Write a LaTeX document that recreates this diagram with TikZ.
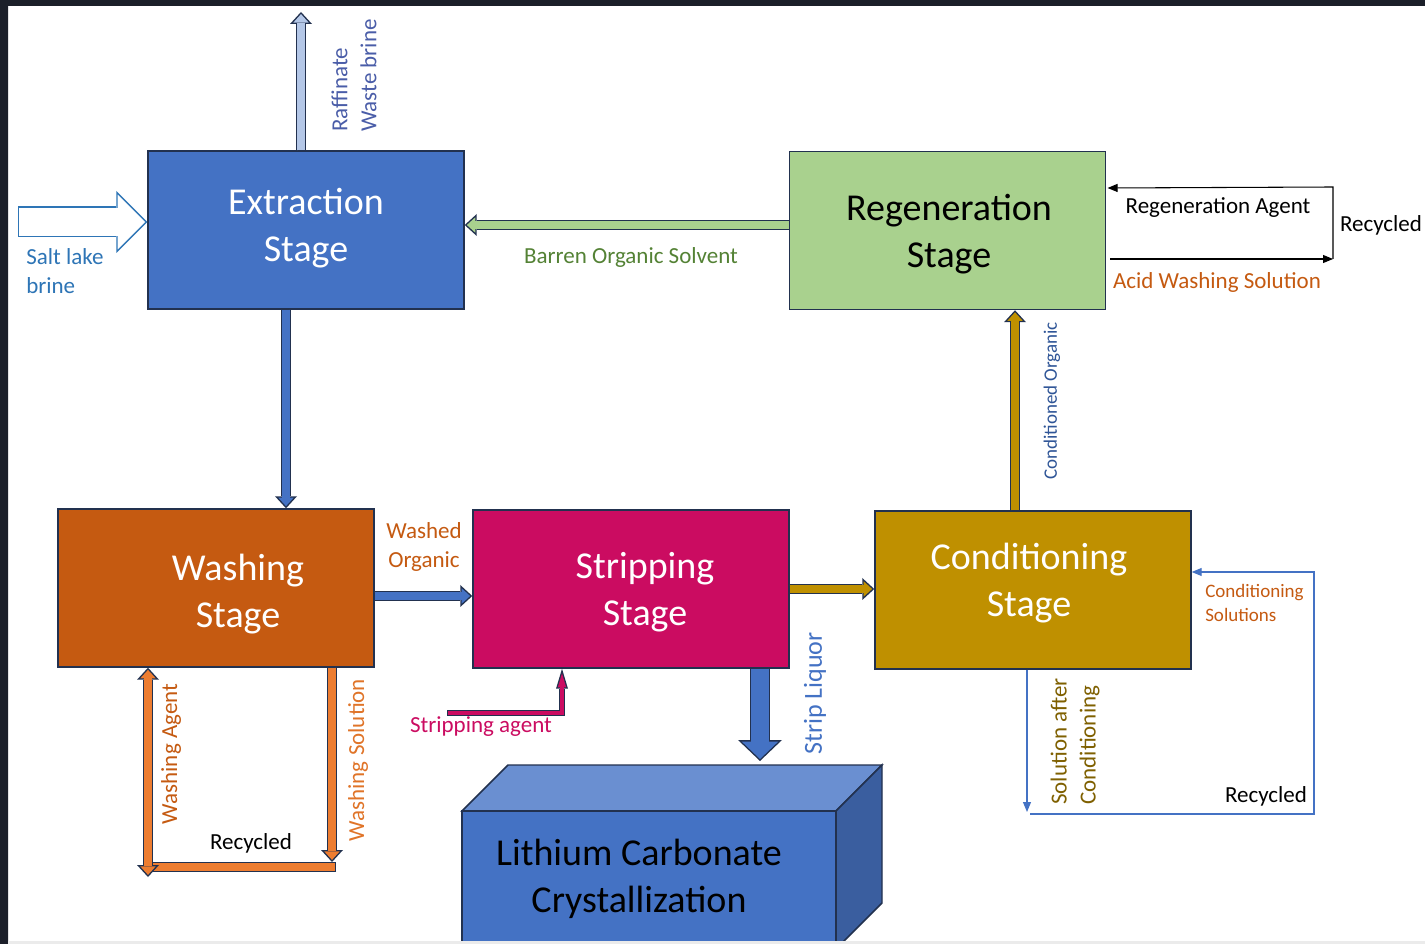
\documentclass[tikz,border=0pt]{standalone}
\usepackage{fontspec}
\setmainfont{Carlito}
\usepackage{xcolor}
\usetikzlibrary{arrows.meta}

\definecolor{edge}{HTML}{22314F}
\definecolor{extractfill}{HTML}{4472C4}
\definecolor{regenfill}{HTML}{A9D18E}
\definecolor{washfill}{HTML}{C55A11}
\definecolor{stripfill}{HTML}{CB0C61}
\definecolor{condfill}{HTML}{BF9000}
\definecolor{rafffill}{HTML}{B4C7E7}
\definecolor{loopfill}{HTML}{ED7D31}
\definecolor{saltblue}{HTML}{2E75B6}
\definecolor{rafftext}{HTML}{4A5DA8}
\definecolor{barrengreen}{HTML}{548235}
\definecolor{orangetext}{HTML}{C55A11}
\definecolor{lightorange}{HTML}{E07428}
\definecolor{condtext}{HTML}{2F5597}
\definecolor{goldtext}{HTML}{7F6000}
\definecolor{cubetop}{HTML}{6A8FD1}
\definecolor{cubeside}{HTML}{3A5E9F}
\definecolor{framedark}{HTML}{1B1F29}
\definecolor{framebrown}{HTML}{6B5A4D}

\tikzset{
  outertip/.tip={Triangle[length=9pt,width=16.5pt,line width=0pt]},
  innertip/.tip={Triangle[length=6.3pt,width=11.5pt,line width=0pt]},
  stage/.style={draw=edge, line width=1.1pt, minimum width=237pt, minimum height=118.5pt},
  stagetext/.style={align=center, font=\fontsize{28.5}{35.25}\selectfont, text=white},
  tag/.style={font=\fontsize{17.25}{21.75}\selectfont, align=center, inner sep=0pt},
  smalltag/.style={font=\fontsize{14.25}{18}\selectfont, align=left, inner sep=0pt},
  pipe/.style={preaction={draw=edge, line width=7.5pt, shorten >=0pt, shorten <=0pt, -{outertip}},
    draw=#1, line width=5.3pt, shorten >=1.6pt, -{innertip}},
  twopipe/.style={preaction={draw=edge, line width=7.5pt, shorten >=0pt, shorten <=0pt, {outertip}-{outertip}},
    draw=#1, line width=5.3pt, shorten >=1.6pt, shorten <=1.6pt, {innertip}-{innertip}},
  bar/.style={preaction={draw=edge, line width=7.5pt, shorten >=0pt, shorten <=0pt},
    draw=#1, line width=5.3pt, shorten >=1.1pt, shorten <=1.1pt},
  widepipe/.style={preaction={draw=edge, line width=15pt, shorten >=0pt, -{Triangle[length=15.75pt,width=33pt,line width=0pt]}},
    draw=#1, line width=12.8pt, shorten >=1.5pt, -{Triangle[length=13.1pt,width=27.5pt,line width=0pt]}},
  agentpipe/.style={preaction={draw=edge, line width=4.5pt, line join=miter, shorten >=0pt, shorten <=0pt, -{Triangle[length=15pt,width=9pt,line width=0pt]}},
    draw=#1, line width=2.5pt, line join=miter, shorten >=3.5pt, shorten <=1pt, -{Triangle[length=10.5pt,width=6.3pt,line width=0pt]}},
  hollowpipe/.style={preaction={draw=saltblue, line width=23.25pt, shorten >=0pt, shorten <=0pt, -{Triangle[length=23.25pt,width=46.5pt,line width=0pt]}},
    draw=white, line width=21.05pt, shorten >=1.56pt, shorten <=1.1pt, -{Triangle[length=20.6pt,width=41.2pt,line width=0pt]}},
  thinflow/.style={line width=0.8pt, -{Triangle[length=7.5pt,width=6pt]}},
}

\begin{document}
\begin{tikzpicture}[x=0.75pt, y=-0.75pt]
  \useasboundingbox (0,0) rectangle (1425,944);
  % frame of the screenshot
  \fill[white] (0,0) rectangle (1425,944);
  \fill[framedark] (0,0) rectangle (1425,6);
  \shade[top color=framedark, middle color=framebrown, bottom color=framedark] (0,0) rectangle (8,944);

  % stages
  \node[stage, fill=extractfill] (extract) at (306,230) {};
  \node[stagetext] (extracttxt) at (306,228.5) {Extraction\\Stage};
  \node[stage, fill=regenfill] (regen) at (947.5,230.5) {};
  \node[stagetext, text=black] (regentxt) at (949,234) {Regeneration\\Stage};
  \node[stage, fill=washfill] (wash) at (216,588) {};
  \node[stagetext] (washtxt) at (238,594.5) {Washing\\Stage};
  \node[stage, fill=stripfill] (strip) at (631,589) {};
  \node[stagetext] (striptxt) at (645,592.5) {Stripping\\Stage};
  \node[stage, fill=condfill] (cond) at (1033,590) {};
  \node[stagetext] (condtxt) at (1029,583.5) {Conditioning\\Stage};

  % crystallization block
  \filldraw[fill=cubetop, draw=edge, line width=1.1pt] (462,811) -- (508,765) -- (882,765) -- (836,811) -- cycle;
  \filldraw[fill=cubeside, draw=edge, line width=1.1pt] (836,811) -- (882,765) -- (882,903) -- (836,949) -- cycle;
  \filldraw[fill=extractfill, draw=edge, line width=1.1pt] (462,949) -- (462,811) -- (836,811) -- (836,949);
  \node[stagetext, text=black] (cryst) at (639,878.5) {Lithium Carbonate\\Crystallization};
  \fill[black!8] (8,941) rectangle (1425,944);

  % columns and rows for the flows
  \coordinate (rafftop) at (301,12);
  \coordinate (saltstart) at (18,222);
  \coordinate (barrenrow) at (0,225);
  \coordinate (feedcol) at (286,0);
  \coordinate (washedrow) at (0,596);
  \coordinate (goldrow) at (0,589);
  \coordinate (liquorend) at (760,761);
  \coordinate (agentstart) at (447,713);
  \coordinate (agentcol) at (562,0);
  \coordinate (condcol) at (1015,0);
  \coordinate (wsolend) at (332,862);
  \coordinate (wagentbot) at (148,877);
  \coordinate (wbarright) at (336,867);
  \coordinate (wbarleft) at (146,867);
  \coordinate (agentrow) at (0,188);
  \coordinate (acidrow) at (0,259);
  \coordinate (regencorner) at (1333,259);
  \coordinate (regentop) at (1333,187);
  \coordinate (condout) at (1027,812);
  \coordinate (condbl) at (1030,814);
  \coordinate (condbr) at (1314,814);
  \coordinate (condtr) at (1314,572);

  % block arrows
  \draw[pipe=rafffill] (extract.north -| rafftop) -- (rafftop);
  \draw[hollowpipe] (saltstart) -- (extract.west |- saltstart);
  \draw[pipe=regenfill] (regen.west |- barrenrow) -- (extract.east |- barrenrow);
  \draw[pipe=extractfill] (extract.south -| feedcol) -- (wash.north -| feedcol);
  \draw[pipe=extractfill] (wash.east |- washedrow) -- (strip.west |- washedrow);
  \draw[pipe=condfill] (strip.east |- goldrow) -- (cond.west |- goldrow);
  \draw[widepipe=extractfill] (strip.south -| liquorend) -- (liquorend);
  \draw[agentpipe=stripfill] (agentstart) -| (strip.south -| agentcol);
  \draw[pipe=condfill] (cond.north -| condcol) -- (regen.south -| condcol);

  % washing loop
  \draw[bar=loopfill] (wbarright) -- (wbarleft);
  \draw[pipe=loopfill] (wash.south -| wsolend) -- (wsolend);
  \draw[twopipe=loopfill] (wagentbot) -- (wash.south -| wagentbot);

  % regeneration loop
  \draw[thinflow] ([xshift=3pt]regen.east |- acidrow) -- (regencorner);
  \draw[thinflow] (regencorner) -- (regentop) -- ([xshift=1pt]regen.east |- agentrow);

  % conditioning loop
  \draw[thinflow, extractfill] (cond.south -| condout) -- (condout);
  \draw[thinflow, extractfill] (condbl) -- (condbr) -- (condtr) -- (cond.east |- condtr);

  % labels
  \node[tag, rotate=90, align=left, anchor=west, text=rafftext] (rafflbl) at (354,132) {Raffinate\\Waste brine};
  \node[tag, align=left, anchor=west, text=saltblue] (saltlbl) at (26,271.5) {Salt lake\\brine};
  \node[tag, text=barrengreen] (barrenlbl) at (631,257) {Barren Organic Solvent};
  \node[tag, text=orangetext] (washedlbl) at (424,546.5) {Washed\\Organic};
  \node[tag, text=stripfill] (agentlbl) at (481,727) {Stripping agent};
  \node[tag, rotate=90, text=extractfill, font=\fontsize{19.5}{24}\selectfont] (liquorlbl) at (815,693.5) {Strip Liquor};
  \node[smalltag, rotate=90, text=condtext] (condorglbl) at (1052,401) {Conditioned Organic};
  \node[tag] (regagentlbl) at (1218,208) {Regeneration Agent};
  \node[tag] (regrecyclbl) at (1381,225) {Recycled};
  \node[tag, text=orangetext] (acidlbl) at (1217,282) {Acid Washing Solution};
  \node[smalltag, anchor=west, text=orangetext] (condsollbl) at (1205,603) {Conditioning\\Solutions};
  \node[tag, rotate=90, align=left, anchor=west, text=goldtext] (aftercondlbl) at (1075,805) {Solution after\\Conditioning};
  \node[tag] (condrecyclbl) at (1266,796) {Recycled};
  \node[tag, rotate=90, text=orangetext] (wagentlbl) at (171,754) {Washing Agent};
  \node[tag, rotate=90, text=lightorange] (wsollbl) at (358,760) {Washing Solution};
  \node[tag] (washrecyclbl) at (251,843) {Recycled};
\end{tikzpicture}
\end{document}
